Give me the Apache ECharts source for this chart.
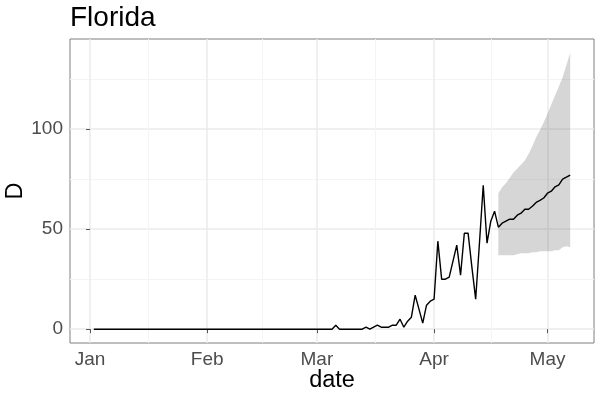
<!DOCTYPE html>
<html>
<head>
<meta charset="utf-8">
<script src="https://cdn.jsdelivr.net/npm/echarts@6/dist/echarts.min.js"></script>
<style>
  html, body { margin: 0; padding: 0; background: #fff; }
  #myChart { width: 600px; height: 400px; }
</style>
</head>
<body>
<div id="myChart"></div>
<script>
// first day of data, one value per day after it
const startDate = [2020, 0, 2];
const monthLabels = ["Jan", "Feb", "Mar", "Apr", "May"];
const monthStarts = [[2020, 0, 1], [2020, 1, 1], [2020, 2, 1], [2020, 3, 1], [2020, 4, 1]];
const yTicks = [0, 50, 100];
const yMinorTicks = [25, 75, 125];

// observed daily deaths, Jan 2 - Apr 17
const observed = [
  0, 0, 0, 0, 0, 0, 0, 0, 0, 0, 0, 0, 0, 0, 0, 0,
  0, 0, 0, 0, 0, 0, 0, 0, 0, 0, 0, 0, 0, 0, 0, 0,
  0, 0, 0, 0, 0, 0, 0, 0, 0, 0, 0, 0, 0, 0, 0, 0,
  0, 0, 0, 0, 0, 0, 0, 0, 0, 0, 0, 0, 0, 0, 0, 0,
  2, 0, 0, 0, 0, 0, 0, 0, 1, 0, 1, 2, 1, 1, 1, 2,
  2, 5, 1, 4, 6, 17, 10, 3, 12, 14, 15, 44, 25, 25, 26, 34,
  42, 27, 48, 48, 31, 15, 43, 72, 43, 54, 59
];
// forecast, Apr 18 - May 7
const forecastMid = [51, 53, 54, 55, 55, 57, 58, 60, 60, 61.5, 63.4, 64.4, 65.6, 68, 69, 71.2, 72.2, 75, 76, 77];
const forecastLow = [37, 37, 37, 37, 37, 37.5, 38, 38, 38, 38.5, 38.5, 39, 39, 39, 39, 39.5, 39.5, 41, 41.5, 41];
const forecastHigh = [68, 71, 73, 75.6, 78.3, 80.4, 82.2, 84.4, 87.6, 91.6, 96, 99.5, 103.5, 107.7, 112.3, 116.8, 121.4, 126, 132, 138.2];

// x is counted in days since Jan 1 2020
const DAY = 864e5;
const origin = new Date(2020, 0, 1).getTime();
const dayOf = d => Math.round((new Date(d[0], d[1], d[2]).getTime() - origin) / DAY);
const d0 = dayOf(startDate);
const lineValues = observed.concat(forecastMid);
const days = lineValues.map((v, i) => d0 + i);
const fcDays = days.slice(observed.length);

const lineData = lineValues.map((v, i) => [days[i], v]);
const bandData = fcDays.map((d, i) => [d, forecastLow[i], forecastHigh[i]]);

const monthDays = monthStarts.map(dayOf);
const minorDays = [];
for (let i = 0; i < monthDays.length - 1; i++) {
  minorDays.push((monthDays[i] + monthDays[i + 1]) / 2);
}

// ggplot style 5% expansion
const xSpan = days[days.length - 1] - days[0];
const xMin = days[0] - 0.05 * xSpan;
const xMax = days[days.length - 1] + 0.05 * xSpan;
const yTop = Math.max(...forecastHigh, ...observed);
const yMin = -0.05 * yTop;
const yMax = yTop * 1.05;

const font = "Liberation Sans, Arial, Helvetica, sans-serif";
const chart = echarts.init(document.getElementById("myChart"));

// ribbon: one polygon, upper edge forward then lower edge back
function renderBand(params, api) {
  if (params.dataIndex !== 0) return;
  const pts = [];
  for (let i = 0; i < bandData.length; i++) {
    pts.push(api.coord([bandData[i][0], bandData[i][2]]));
  }
  for (let i = bandData.length - 1; i >= 0; i--) {
    pts.push(api.coord([bandData[i][0], bandData[i][1]]));
  }
  return {
    type: "polygon",
    shape: { points: pts },
    style: { fill: "rgba(51,51,51,0.2)" }
  };
}

chart.setOption({
  animation: false,
  textStyle: { fontFamily: font },
  title: {
    text: "Florida",
    left: 70,
    top: 4,
    padding: 0,
    textStyle: { fontSize: 28, fontWeight: "normal", color: "#000", fontFamily: font }
  },
  grid: {
    left: 70, right: 6, top: 39, bottom: 57,
    show: true,
    borderColor: "#7f7f7f",
    borderWidth: 1,
    outerBoundsMode: "none"
  },
  xAxis: [
    {
      type: "value",
      min: xMin,
      max: xMax,
      name: "date",
      nameLocation: "middle",
      nameGap: 26,
      nameMoveOverlap: false,
      nameTextStyle: { fontSize: 23.5, color: "#000" },
      axisLine: { show: false },
      axisTick: { show: true, length: 4, lineStyle: { color: "#555" }, customValues: monthDays },
      axisLabel: {
        customValues: monthDays,
        margin: 7,
        fontSize: 19,
        color: "#4d4d4d",
        formatter: function (val) {
          return monthLabels[monthDays.indexOf(val)] || "";
        }
      },
      splitLine: { show: true, lineStyle: { color: "#ebebeb", width: 1.5 } }
    },
    {
      type: "value",
      min: xMin,
      max: xMax,
      axisLine: { show: false },
      axisTick: { show: false, customValues: minorDays },
      axisLabel: { show: false, customValues: minorDays },
      splitLine: { show: true, lineStyle: { color: "#f4f4f4", width: 1 } }
    }
  ],
  yAxis: [
    {
      type: "value",
      min: yMin,
      max: yMax,
      name: "D",
      nameLocation: "middle",
      nameRotate: 90,
      nameGap: 42,
      nameMoveOverlap: false,
      nameTextStyle: { fontSize: 23.5, color: "#000" },
      axisLine: { show: false },
      axisTick: { show: true, length: 4, lineStyle: { color: "#555" }, customValues: yTicks },
      axisLabel: { customValues: yTicks, margin: 7, fontSize: 19, color: "#4d4d4d" },
      splitLine: { show: true, lineStyle: { color: "#ebebeb", width: 1.5 } }
    },
    {
      type: "value",
      min: yMin,
      max: yMax,
      axisLine: { show: false },
      axisTick: { show: false, customValues: yMinorTicks },
      axisLabel: { show: false, customValues: yMinorTicks },
      splitLine: { show: true, lineStyle: { color: "#f4f4f4", width: 1 } }
    }
  ],
  series: [
    {
      type: "custom",
      data: bandData,
      encode: { x: 0, y: [1, 2] },
      silent: true,
      renderItem: renderBand
    },
    {
      type: "line",
      data: lineData,
      symbol: "none",
      z: 5,
      lineStyle: { color: "#000", width: 1.4 }
    }
  ]
});
</script>
</body>
</html>
